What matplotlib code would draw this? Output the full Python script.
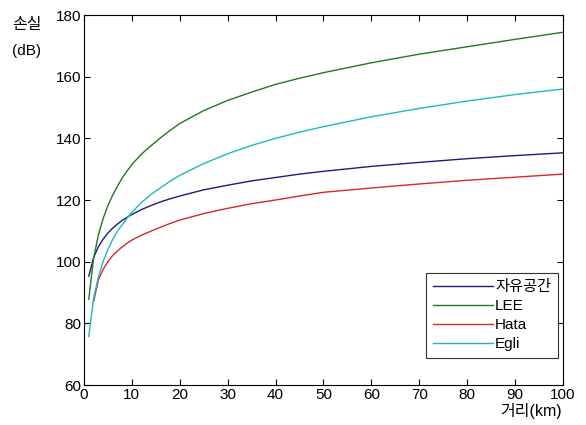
import numpy as np
import matplotlib
matplotlib.use("Agg")
import matplotlib.pyplot as plt

plt.rcParams['font.family'] = ['Liberation Sans', 'Noto Sans CJK KR']

# distance (km) and path loss (dB)
dist = [1, 2, 3, 4, 5, 6, 7, 8, 9, 10, 12, 14, 16, 18, 20, 25, 30, 35, 40, 45,
        50, 60, 70, 80, 90, 100]
free_space = [95.3, 101.3, 104.8, 107.3, 109.3, 110.9, 112.2, 113.4, 114.4, 115.3,
              116.9, 118.2, 119.4, 120.4, 121.3, 123.3, 124.8, 126.2, 127.3, 128.4,
              129.3, 130.9, 132.2, 133.4, 134.4, 135.3]
lee = [87.8, 101.0, 108.6, 114.0, 118.2, 121.6, 124.5, 127.2, 129.4, 131.5,
       134.9, 137.6, 140.2, 142.6, 144.8, 149.0, 152.3, 155.0, 157.5, 159.5,
       161.3, 164.5, 167.3, 169.7, 172.1, 174.4]
egli = [75.7, 88.0, 95.0, 100.0, 104.0, 107.2, 110.0, 112.0, 114.1, 116.0,
        119.2, 121.8, 124.0, 126.1, 128.0, 131.8, 135.0, 137.7, 140.0, 142.0,
        143.8, 147.0, 149.7, 152.1, 154.2, 156.0]
hata_dist = dist[1:]
hata = [87.0, 94.0, 97.5, 100.0, 102.0, 103.5, 104.8, 106.0, 107.0,
        108.6, 109.9, 111.2, 112.4, 113.5, 115.6, 117.3, 118.8, 120.0, 121.3,
        122.5, 123.9, 125.2, 126.4, 127.4, 128.4]

labels = ["자유공간", "LEE", "Hata", "Egli"]
colors = ["#1c1c7a", "#1e7a1e", "#d42a2a", "#20b8c0"]

fig = plt.figure(figsize=(5.86, 4.25), dpi=100)
ax = fig.add_axes([0.1433, 0.0941, 0.8174, 0.8706])
ax.plot(dist, free_space, color=colors[0], lw=1, label=labels[0])
ax.plot(dist, lee, color=colors[1], lw=1, label=labels[1])
ax.plot(hata_dist, hata, color=colors[2], lw=1, label=labels[2])
ax.plot(dist, egli, color=colors[3], lw=1, label=labels[3])

ax.set_xlim(0, 100); ax.set_ylim(60, 180)
ax.set_xticks(np.arange(0, 101, 10)); ax.set_yticks(np.arange(60, 181, 20))
ax.tick_params(direction="in", top=True, right=True, labelsize=11, length=4, width=0.8, pad=2)
for s in ax.spines.values():
    s.set_linewidth(0.8)

fig.text(12 / 586, 1 - 24 / 425, "손실", fontsize=11.5, va="center", ha="left")
fig.text(12 / 586, 1 - 51 / 425, "(dB)", fontsize=11, va="center", ha="left")
fig.text(562 / 586, 1 - 411 / 425, "거리(km)", fontsize=11.5, va="center", ha="right")

leg = ax.legend(loc="lower right", bbox_to_anchor=(0.9896, 0.073), fontsize=11, frameon=True,
                fancybox=False, edgecolor="black", handlelength=3.9, borderpad=0.45,
                labelspacing=0.33, handletextpad=0.15, borderaxespad=0)
leg.get_frame().set_linewidth(0.8)

fig.savefig("out.png", dpi=100)
